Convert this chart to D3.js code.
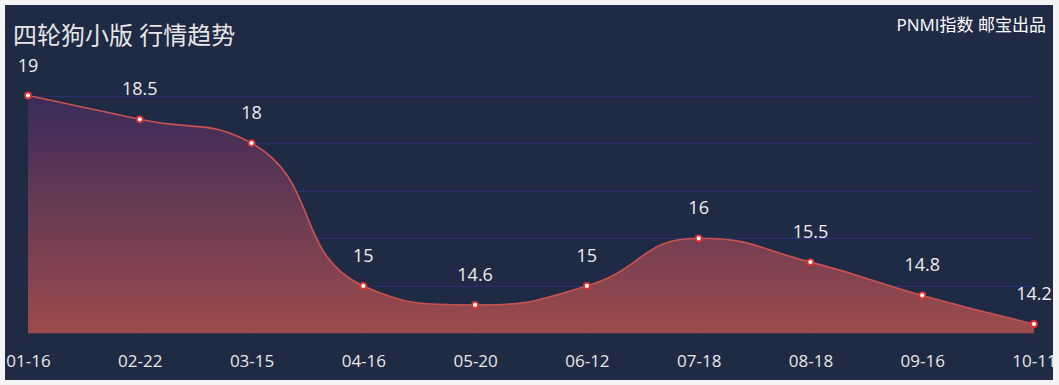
<!DOCTYPE html>
<html>
<head>
<meta charset="utf-8">
<script src="https://cdn.jsdelivr.net/npm/d3@7/dist/d3.min.js"></script>
<style>
  html, body { margin: 0; padding: 0; background: #f4f4f4; }
  svg { display: block; }
</style>
</head>
<body>
<svg id="chart" width="1059" height="385"></svg>
<script>
const categories = ["01-16", "02-22", "03-15", "04-16", "05-20", "06-12", "07-18", "08-18", "09-16", "10-11"];
const values = [19, 18.5, 18, 15, 14.6, 15, 16, 15.5, 14.8, 14.2];
const yTicks = [14, 15, 16, 17, 18, 19];
const titleText = "四轮狗小版 行情趋势";
const sourceText = "PNMI指数 邮宝出品";

const W = 1059, H = 385;
const svg = d3.select("#chart");
const font = "'Open Sans', 'Noto Sans CJK SC', sans-serif";

// panel
svg.append("rect").attr("x", 5).attr("y", 5).attr("width", 1048).attr("height", 375).attr("fill", "#1f2a45");

const x = d3.scalePoint().domain(categories).range([28, 1034]);
const y = d3.scaleLinear().domain([14, 19]).range([333.5, 95.5]);

const defs = svg.append("defs");
const grad = defs.append("linearGradient").attr("id", "areaGrad")
  .attr("gradientUnits", "userSpaceOnUse")
  .attr("x1", 0).attr("x2", 0).attr("y1", y(19)).attr("y2", y(14));
grad.append("stop").attr("offset", "0%").attr("stop-color", "#3a2b5a");
grad.append("stop").attr("offset", "100%").attr("stop-color", "#9c4b4b");

// grid lines
svg.append("g").selectAll("line").data(yTicks.filter(d => d > 14)).join("line")
  .attr("x1", 28).attr("x2", 1034)
  .attr("y1", d => Math.round(y(d)) + 0.5).attr("y2", d => Math.round(y(d)) + 0.5)
  .attr("stroke", "#2b2f6c").attr("stroke-width", 1.5);

// ECharts-like smooth path
const pts = categories.map((c, i) => [x(c), y(values[i])]);
function smoothPath(points, smooth) {
  const p = d3.path();
  let prevX, prevY, cpx0, cpy0, cpx1, cpy1;
  const n = points.length;
  for (let i = 0; i < n; i++) {
    const [px, py] = points[i];
    if (i === 0) {
      p.moveTo(px, py); cpx0 = px; cpy0 = py;
    } else {
      let nextCpx0, nextCpy0;
      if (i === n - 1) {
        cpx1 = px; cpy1 = py;
      } else {
        const [nx, ny] = points[i + 1];
        let vx = nx - prevX, vy = ny - prevY;
        const dx0 = px - prevX, dx1 = nx - px, dy0 = py - prevY, dy1 = ny - py;
        const lenPrev = Math.sqrt(dx0 * dx0 + dy0 * dy0);
        const lenNext = Math.sqrt(dx1 * dx1 + dy1 * dy1);
        const ratio = lenNext / (lenNext + lenPrev);
        nextCpx0 = px + vx * smooth * ratio;
        nextCpy0 = py + vy * smooth * ratio;
        nextCpx0 = Math.min(nextCpx0, Math.max(nx, px));
        nextCpy0 = Math.min(nextCpy0, Math.max(ny, py));
        nextCpx0 = Math.max(nextCpx0, Math.min(nx, px));
        nextCpy0 = Math.max(nextCpy0, Math.min(ny, py));
        vx = nextCpx0 - px; vy = nextCpy0 - py;
        cpx1 = px - vx * lenPrev / lenNext;
        cpy1 = py - vy * lenPrev / lenNext;
        cpx1 = Math.min(cpx1, Math.max(prevX, px));
        cpy1 = Math.min(cpy1, Math.max(prevY, py));
        cpx1 = Math.max(cpx1, Math.min(prevX, px));
        cpy1 = Math.max(cpy1, Math.min(prevY, py));
        vx = px - cpx1; vy = py - cpy1;
        nextCpx0 = px + vx * lenNext / lenPrev;
        nextCpy0 = py + vy * lenNext / lenPrev;
      }
      p.bezierCurveTo(cpx0, cpy0, cpx1, cpy1, px, py);
      cpx0 = nextCpx0; cpy0 = nextCpy0;
    }
    prevX = px; prevY = py;
  }
  return p.toString();
}
const linePath = smoothPath(pts, 0.5);
const areaPath = linePath + `L${pts[pts.length - 1][0]},${y(14)}L${pts[0][0]},${y(14)}Z`;

svg.append("path").attr("d", areaPath).attr("fill", "url(#areaGrad)");
svg.append("path").attr("d", linePath).attr("fill", "none").attr("stroke", "#cc5250").attr("stroke-width", 1.6);

// x axis
const xAxis = d3.axisBottom(x).tickSize(5).tickPadding(16);
const gx = svg.append("g").attr("transform", `translate(0,${y(14)})`).call(xAxis);
gx.select(".domain").attr("stroke", "#2d2f3f").attr("stroke-width", 1.5);
gx.selectAll(".tick line").attr("stroke", "#2d2f3f");
gx.selectAll(".tick text").attr("fill", "#e8e8e8").attr("font-size", 17).attr("font-family", font);

// y axis ticks only
const yAxis = d3.axisLeft(y).tickValues(yTicks).tickSize(5).tickFormat("");
const gy = svg.append("g").attr("transform", `translate(27,0)`).call(yAxis);
gy.select(".domain").remove();
gy.selectAll(".tick line").attr("stroke", "#2d2f3f");

// markers
svg.append("g").selectAll("circle").data(pts).join("circle")
  .attr("cx", d => d[0]).attr("cy", d => d[1]).attr("r", 3)
  .attr("fill", "#ffffff").attr("stroke", "#e0322e").attr("stroke-width", 1.8);

// value labels
svg.append("g").selectAll("text").data(values).join("text")
  .attr("x", (d, i) => x(categories[i])).attr("y", d => y(d) - 24)
  .attr("text-anchor", "middle").attr("fill", "#eeeeee")
  .attr("font-size", 18).attr("font-family", font).text(d => d);

// title
svg.append("text").attr("x", 13).attr("y", 44).attr("fill", "#e6e6e6")
  .attr("font-size", 24).attr("font-family", font).text(titleText);
svg.append("text").attr("x", 1046).attr("y", 31).attr("text-anchor", "end").attr("fill", "#ffffff")
  .attr("font-size", 17).attr("font-family", font).text(sourceText);
</script>
</body>
</html>
